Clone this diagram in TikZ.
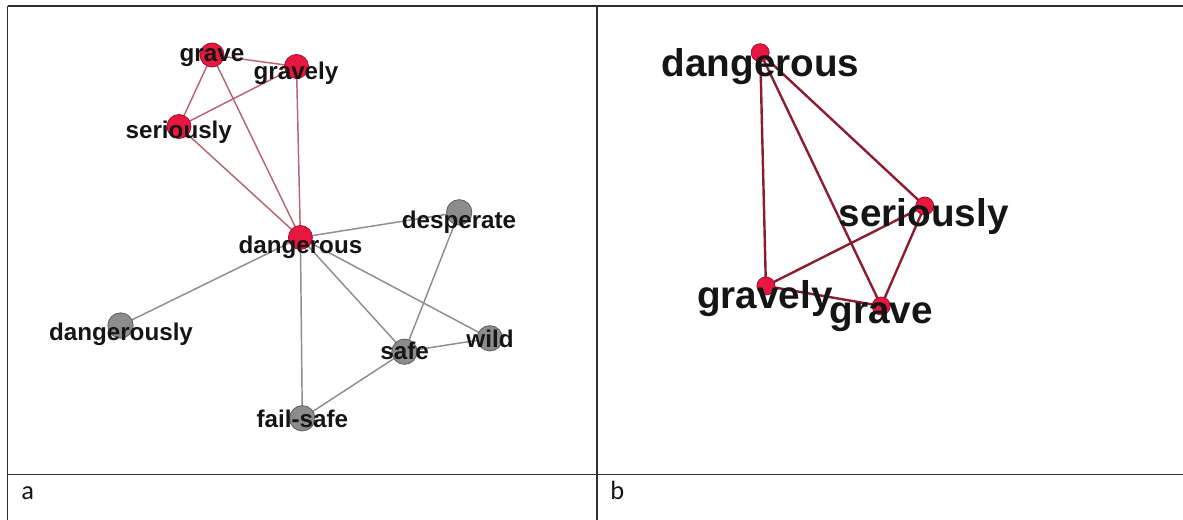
\documentclass[tikz,border=0pt]{standalone}
\usepackage{fontspec}
\setmainfont{Liberation Sans}
\newfontfamily\capfont{Carlito}
\definecolor{nodered}{HTML}{E8173F}
\definecolor{noderedline}{HTML}{A01030}
\definecolor{nodegray}{HTML}{8C8C8C}
\definecolor{nodegrayline}{HTML}{5E5E5E}
\definecolor{edgeredA}{HTML}{B86472}
\definecolor{edgegrayA}{HTML}{8E8E8E}
\definecolor{edgeredB}{HTML}{8C1C30}
\definecolor{txt}{HTML}{151515}
\definecolor{framecol}{HTML}{303030}
\pgfdeclarelayer{bg}
\pgfsetlayers{bg,main}
\tikzset{
  rednodeA/.style={circle, fill=nodered, draw=noderedline, line width=0.6pt, minimum size=18pt, inner sep=0pt},
  graynodeA/.style={circle, fill=nodegray, draw=nodegrayline, line width=0.6pt, minimum size=19pt, inner sep=0pt},
  rednodeB/.style={circle, fill=nodered, draw=noderedline, line width=0.6pt, minimum size=13.5pt, inner sep=0pt},
  lblA/.style={font=\bfseries\fontsize{18.15}{20}\selectfont, text=txt, anchor=base, inner sep=0pt},
  lblB/.style={font=\bfseries\fontsize{29}{32}\selectfont, text=txt, anchor=base, inner sep=0pt},
  redeA/.style={draw=edgeredA, line width=1.1pt},
  grayeA/.style={draw=edgegrayA, line width=1.1pt},
  redeB/.style={draw=edgeredB, line width=1.8pt},
  framestyle/.style={draw=framecol, line width=1.2pt},
  caplbl/.style={font=\capfont\fontsize{19.8}{22}\selectfont, text=txt, anchor=base west, inner sep=0pt},
}
\begin{document}
\begin{tikzpicture}[x=0.75pt, y=-0.75pt]
\useasboundingbox (0,0) rectangle (1183,520);
% table frame
\draw[framestyle] (7.5,6) -- (1183,6);
\draw[framestyle] (7.5,6) -- (7.5,520);
\draw[framestyle] (597,6) -- (597,520);
\draw[framestyle] (7.5,474.5) -- (1183,474.5);
\node[caplbl] (capA) at (21,499) {a};
\node[caplbl] (capB) at (610,499) {b};

% ---------- panel a: nodes ----------
\node[rednodeA] (aGrave) at (212,55) {};
\node[rednodeA] (aGravely) at (296.5,66.5) {};
\node[rednodeA] (aSeriously) at (179,126.5) {};
\node[rednodeA] (aDangerous) at (300.4,237.5) {};
\node[graynodeA] (aDesperate) at (459.2,212.3) {};
\node[graynodeA] (aDangerously) at (120.5,325.5) {};
\node[graynodeA] (aSafe) at (404.5,351.7) {};
\node[graynodeA] (aWild) at (489.9,338.3) {};
\node[graynodeA] (aFailsafe) at (302.3,418.3) {};
% labels a
\node[lblA] (aGraveL) at (212,61.7) {grave};
\node[lblA] (aGravelyL) at (296,79.5) {gravely};
\node[lblA] (aSeriouslyL) at (178.8,138.3) {seriously};
\node[lblA] (aDangerousL) at (300.4,253.3) {dangerous};
\node[lblA] (aDesperateL) at (459,228.3) {desperate};
\node[lblA] (aDangerouslyL) at (121,340.7) {dangerously};
\node[lblA] (aSafeL) at (404.7,360) {safe};
\node[lblA] (aWildL) at (490,347.7) {wild};
\node[lblA] (aFailsafeL) at (302.3,427.3) {fail-safe};

% ---------- panel b: nodes ----------
\node[rednodeB] (bDangerous) at (760.2,52.7) {};
\node[rednodeB] (bSeriously) at (924.7,206) {};
\node[rednodeB] (bGravely) at (765.9,286) {};
\node[rednodeB] (bGrave) at (881.2,306) {};
\node[lblB] (bDangerousL) at (760.5,76.7) {dangerous};
\node[lblB] (bSeriouslyL) at (923.7,226.7) {seriously};
\node[lblB] (bGravelyL) at (765,308.3) {gravely};
\node[lblB] (bGraveL) at (881,323.3) {grave};

% ---------- edges ----------
\begin{pgfonlayer}{bg}
\draw[redeA] (aGrave.center) -- (aGravely.center);
\draw[redeA] (aGrave.center) -- (aSeriously.center);
\draw[redeA] (aGrave.center) -- (aDangerous.center);
\draw[redeA] (aGravely.center) -- (aSeriously.center);
\draw[redeA] (aGravely.center) -- (aDangerous.center);
\draw[redeA] (aSeriously.center) -- (aDangerous.center);
\draw[grayeA] (aDangerous.center) -- (aDesperate.center);
\draw[grayeA] (aDangerous.center) -- (aDangerously.center);
\draw[grayeA] (aDangerous.center) -- (aSafe.center);
\draw[grayeA] (aDangerous.center) -- (aWild.center);
\draw[grayeA] (aDangerous.center) -- (aFailsafe.center);
\draw[grayeA] (aDesperate.center) -- (aSafe.center);
\draw[grayeA] (aSafe.center) -- (aWild.center);
\draw[grayeA] (aSafe.center) -- (aFailsafe.center);
\draw[redeB] (bDangerous.center) -- (bGravely.center);
\draw[redeB] (bDangerous.center) -- (bGrave.center);
\draw[redeB] (bDangerous.center) -- (bSeriously.center);
\draw[redeB] (bSeriously.center) -- (bGravely.center);
\draw[redeB] (bSeriously.center) -- (bGrave.center);
\draw[redeB] (bGravely.center) -- (bGrave.center);
\end{pgfonlayer}
\end{tikzpicture}
\end{document}
